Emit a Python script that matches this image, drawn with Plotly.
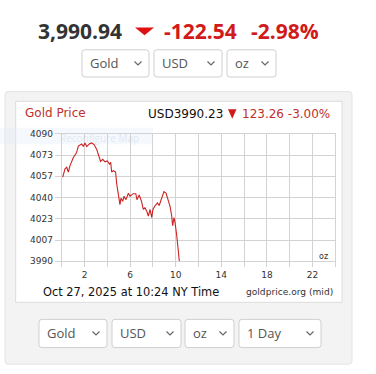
import plotly.graph_objects as go

W, H = 376, 374

# ---- data ----
hours = [0.09, 0.29, 0.44, 0.58, 0.73, 1.02, 1.3, 1.46, 1.75, 1.9, 2.04, 2.2, 2.42, 2.63, 2.84,
         3.07, 3.3, 3.4, 3.6, 3.8, 4.0, 4.2, 4.3, 4.38, 4.53, 4.73, 4.82, 4.97, 5.11, 5.2, 5.35,
         5.47, 5.64, 5.85, 5.99, 6.28, 6.5, 6.6, 6.8, 7.0, 7.16, 7.3, 7.45, 7.6, 7.75, 7.9, 8.0,
         8.2, 8.4, 8.55, 8.75, 8.97, 9.15, 9.35, 9.5, 9.65, 9.73, 9.85, 9.94, 10.09, 10.23, 10.32]
prices = [4056, 4062.5, 4063.7, 4060, 4065, 4071.4, 4075, 4080.3, 4082, 4080, 4082.8, 4080, 4082,
          4082.8, 4081.5, 4077.7, 4071.4, 4068.3, 4070, 4068, 4068.7, 4066.3, 4067.5, 4060, 4061,
          4060, 4051, 4043.4, 4034.4, 4039.5, 4037, 4041, 4038.3, 4043.4, 4041, 4043, 4043,
          4038.3, 4042, 4037, 4030.6, 4032, 4029.5, 4025.5, 4030.6, 4024.3, 4030.6, 4033.7,
          4035.8, 4033.7, 4038.3, 4044.6, 4043.4, 4038.3, 4033.2, 4025.5, 4017.8, 4024.3,
          4020.5, 4010.2, 3997.5, 3990]

y_tick_vals = [3990, 4006.67, 4023.33, 4040, 4056.67, 4073.33, 4090]
y_tick_text = ["3990", "4007", "4023", "4040", "4057", "4073", "4090"]
x_tick_vals = [0, 2, 4, 6, 8, 10, 12, 14, 16, 18, 20, 22, 24]
x_tick_text = ["", "2", "", "6", "", "10", "", "14", "", "18", "", "22", ""]

header_price = "3,990.94"
header_change = "-122.54"
header_pct = "-2.98%"
chart_title = "Gold Price"
chart_price = "USD3990.23"
chart_change = "123.26 -3.00%"
timestamp = "Oct 27, 2025 at 10:24 NY Time"
source = "goldprice.org (mid)"
top_selects = ["Gold", "USD", "oz"]
bottom_selects = ["Gold", "USD", "oz", "1 Day"]


def px(x):
    return x / W


def py(y):
    return 1 - y / H


def rrect(x0, y0, x1, y1, r=3):
    pts = (f"M {px(x0 + r)},{py(y0)} L {px(x1 - r)},{py(y0)} Q {px(x1)},{py(y0)} {px(x1)},{py(y0 + r)} "
           f"L {px(x1)},{py(y1 - r)} Q {px(x1)},{py(y1)} {px(x1 - r)},{py(y1)} "
           f"L {px(x0 + r)},{py(y1)} Q {px(x0)},{py(y1)} {px(x0)},{py(y1 - r)} "
           f"L {px(x0)},{py(y0 + r)} Q {px(x0)},{py(y0)} {px(x0 + r)},{py(y0)} Z")
    return pts


fig = go.Figure()
fig.add_trace(go.Scatter(x=hours, y=prices, mode="lines",
                         line=dict(color="#cc2222", width=1.1), hoverinfo="skip"))

shapes = []
annotations = []

# gray panel
shapes.append(dict(type="path", xref="paper", yref="paper", path=rrect(5, 89, 352, 369, 3),
                   fillcolor="#f3f3f3", line=dict(color="#e3e3e3", width=1), layer="below"))
# white chart box
shapes.append(dict(type="rect", xref="paper", yref="paper", x0=px(15.7), y0=py(305.5), x1=px(342), y1=py(99),
                   fillcolor="#ffffff", line=dict(color="#dcdcdc", width=1), layer="below"))
# faint overlay
shapes.append(dict(type="rect", xref="paper", yref="paper", x0=px(0), y0=py(143), x1=px(153), y1=py(126),
                   fillcolor="rgba(225,235,248,0.35)", line=dict(width=0), layer="below"))
annotations.append(dict(text="Reconfigure Map", xref="paper", yref="paper", x=px(58), y=py(137),
                        xanchor="left", yanchor="middle", showarrow=False,
                        font=dict(family="Open Sans", size=10, color="rgba(200,210,225,0.45)")))


def selects(labels, boxes, ytop, ybot):
    for lab, (x0, x1) in zip(labels, boxes):
        shapes.append(dict(type="path", xref="paper", yref="paper", path=rrect(x0, ytop, x1, ybot, 3),
                           fillcolor="#ffffff", line=dict(color="#cfcfcf", width=1), layer="above"))
        annotations.append(dict(text=lab, xref="paper", yref="paper", x=px(x0 + 5.5), y=py((ytop + ybot) / 2),
                                xanchor="left", yanchor="middle", showarrow=False,
                                font=dict(family="Open Sans", size=13, color="#555555")))
        cx, cy = x1 - 11, (ytop + ybot) / 2
        shapes.append(dict(type="path", xref="paper", yref="paper",
                           path=f"M {px(cx - 3.5)},{py(cy - 2)} L {px(cx)},{py(cy + 1.5)} L {px(cx + 3.5)},{py(cy - 2)}",
                           line=dict(color="#666666", width=1.2), layer="above"))


selects(top_selects, [(82, 149), (154, 222), (227, 276)], 46, 74)
selects(bottom_selects, [(39, 107), (112, 181), (185, 234), (239, 321)], 323, 352)

# header
HY = 27
annotations.append(dict(text=f"<b>{header_price}</b>", xref="paper", yref="paper", x=px(124), y=py(HY),
                        xanchor="right", yanchor="middle", showarrow=False,
                        font=dict(family="Open Sans", size=21, color="#333333")))
shapes.append(dict(type="path", xref="paper", yref="paper",
                   path=f"M {px(135)},{py(23)} L {px(154)},{py(23)} L {px(144.5)},{py(31)} Z",
                   fillcolor="#dd1111", line=dict(width=0)))
annotations.append(dict(text=f"<b>{header_change}</b>", xref="paper", yref="paper", x=px(162), y=py(HY),
                        xanchor="left", yanchor="middle", showarrow=False,
                        font=dict(family="Open Sans", size=21, color="#d11a1a")))
annotations.append(dict(text=f"<b>{header_pct}</b>", xref="paper", yref="paper", x=px(249), y=py(HY),
                        xanchor="left", yanchor="middle", showarrow=False,
                        font=dict(family="Open Sans", size=21, color="#d11a1a")))

# chart title row
annotations.append(dict(text=chart_title, xref="paper", yref="paper", x=px(23), y=py(111),
                        xanchor="left", yanchor="middle", showarrow=False,
                        font=dict(family="DejaVu Sans", size=12, color="#c0302a")))
annotations.append(dict(text=chart_price, xref="paper", yref="paper", x=px(146), y=py(112),
                        xanchor="left", yanchor="middle", showarrow=False,
                        font=dict(family="DejaVu Sans", size=12, color="#111111")))
shapes.append(dict(type="path", xref="paper", yref="paper",
                   path=f"M {px(228)},{py(107)} L {px(236.5)},{py(107)} L {px(232.25)},{py(117)} Z",
                   fillcolor="#d11a1a", line=dict(width=0)))
annotations.append(dict(text=chart_change, xref="paper", yref="paper", x=px(240), y=py(112),
                        xanchor="left", yanchor="middle", showarrow=False,
                        font=dict(family="DejaVu Sans", size=12, color="#c0302a")))

# in-plot unit
annotations.append(dict(text="oz", xref="paper", yref="paper", x=px(330), y=py(258),
                        xanchor="right", yanchor="middle", showarrow=False,
                        font=dict(family="DejaVu Sans", size=8, color="#333333")))

# footer
annotations.append(dict(text=timestamp, xref="paper", yref="paper", x=px(41), y=py(295),
                        xanchor="left", yanchor="middle", showarrow=False,
                        font=dict(family="DejaVu Sans", size=11.4, color="#111111")))
annotations.append(dict(text=source, xref="paper", yref="paper", x=px(335), y=py(295),
                        xanchor="right", yanchor="middle", showarrow=False,
                        font=dict(family="DejaVu Sans", size=9.1, color="#333333")))

fig.update_layout(
    width=W, height=H,
    margin=dict(l=0, r=0, t=0, b=0),
    paper_bgcolor="#ffffff", plot_bgcolor="rgba(0,0,0,0)",
    showlegend=False,
    shapes=shapes, annotations=annotations,
    xaxis=dict(domain=[px(61.7), px(335.3)], range=[0, 24], tickmode="array",
               tickvals=x_tick_vals, ticktext=x_tick_text, showgrid=True, gridcolor="#d3d3d3",
               gridwidth=1, ticks="outside", ticklen=5, tickcolor="#d3d3d3", zeroline=False,
               showline=True, linecolor="#d3d3d3", mirror=True,
               tickfont=dict(family="DejaVu Sans", size=9, color="#333333"), fixedrange=True),
    yaxis=dict(domain=[py(263.3), py(132.3)], range=[3990, 4090], tickmode="array",
               tickvals=y_tick_vals, ticktext=y_tick_text, showgrid=True, gridcolor="#d3d3d3",
               gridwidth=1, ticks="outside", ticklen=6, tickcolor="#d3d3d3", zeroline=False,
               showline=True, linecolor="#d3d3d3", mirror=True,
               tickfont=dict(family="DejaVu Sans", size=9, color="#333333"), fixedrange=True),
)

fig.write_html("out.html", config={"displayModeBar": False},
               post_script="document.body.style.margin='0';document.body.style.overflow='hidden';")
